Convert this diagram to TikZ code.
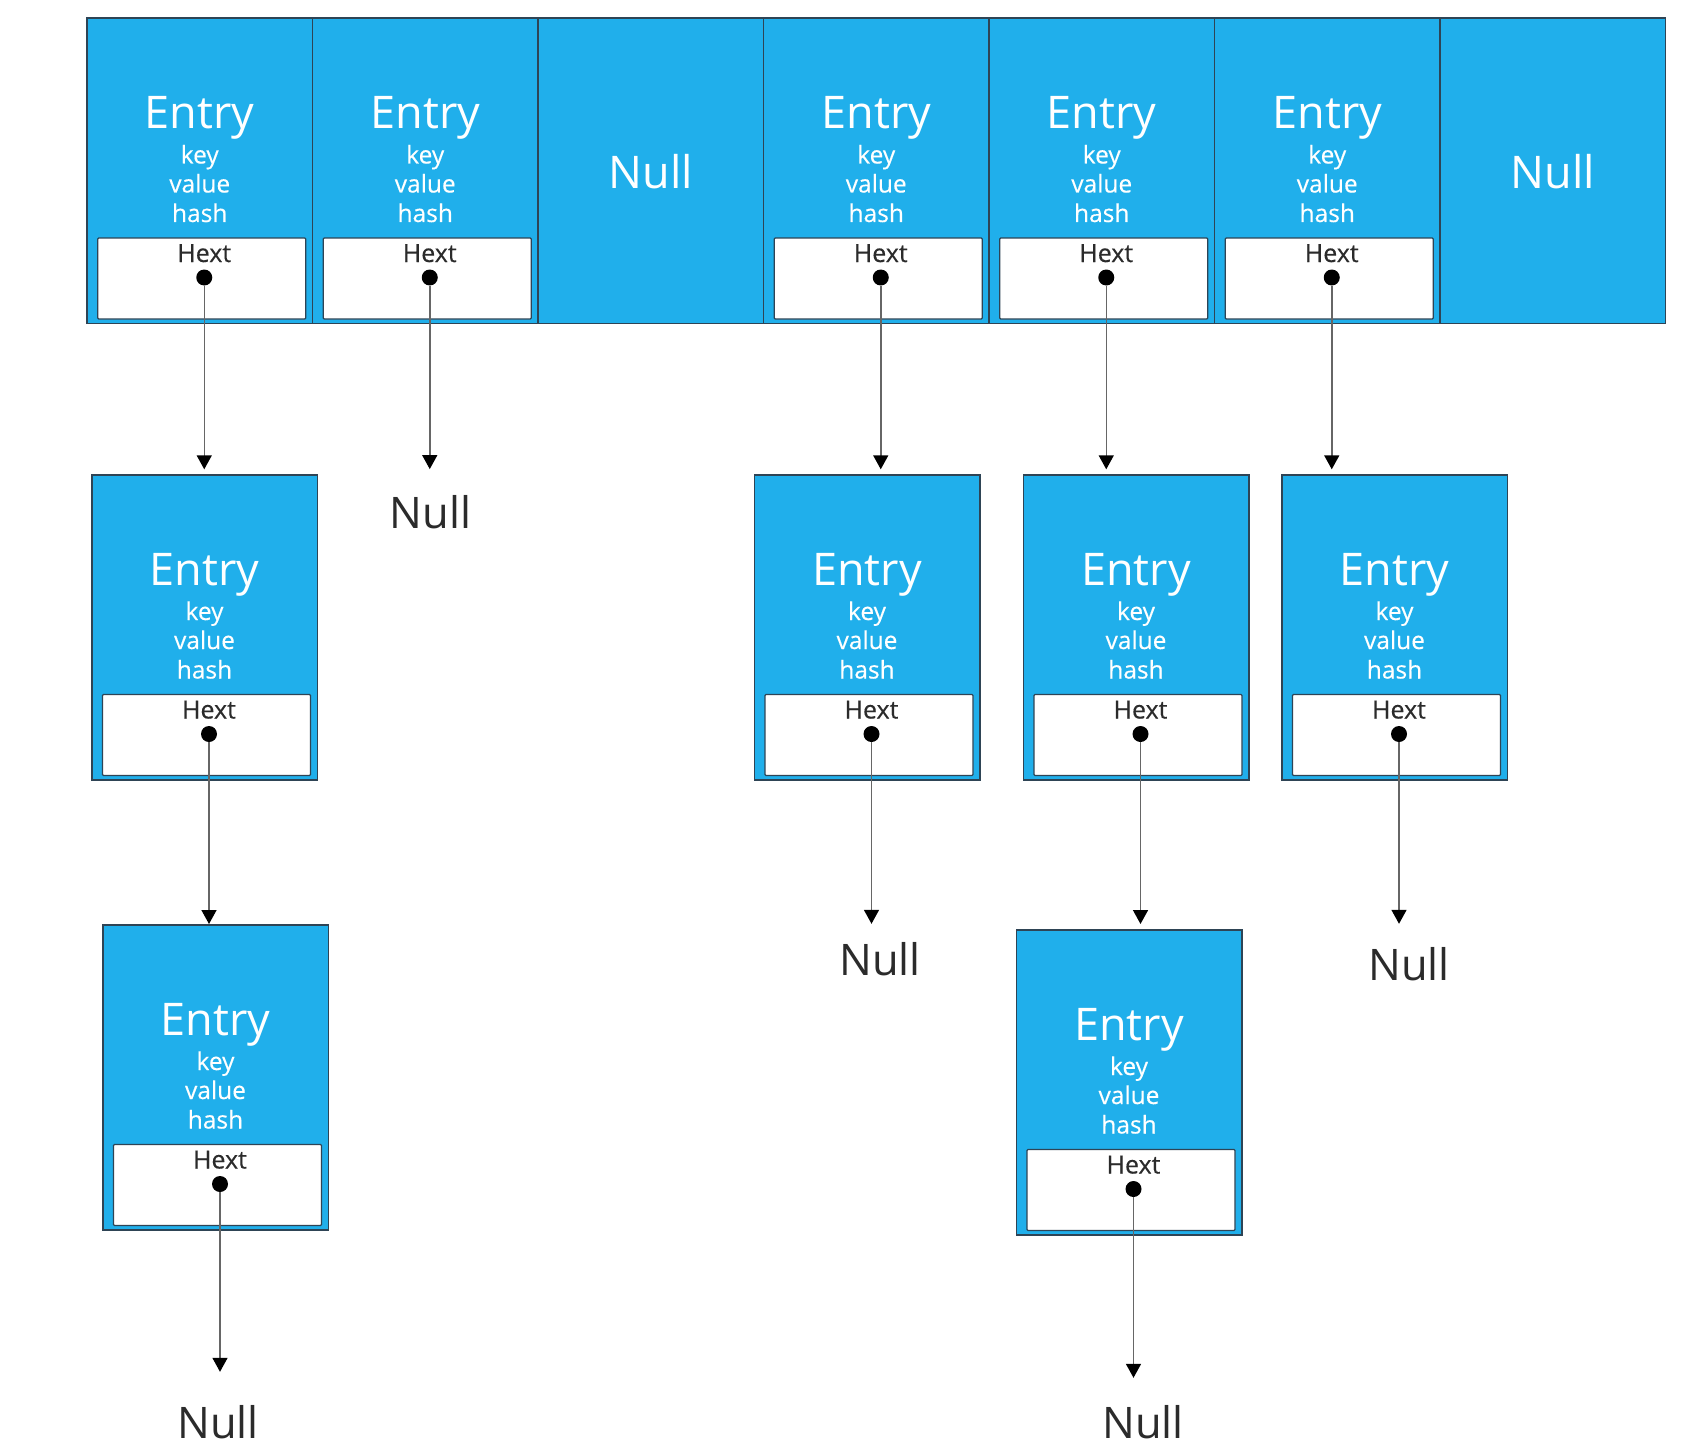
\documentclass[tikz,border=0pt]{standalone}
\usepackage{fontspec}
\setmainfont{Open Sans}
\newfontfamily\fieldfont{Open Sans}[FakeBold=0.3]
\usetikzlibrary{arrows.meta, positioning, calc}
\definecolor{hm}{HTML}{20AFEB}
\definecolor{edge}{HTML}{2E4455}
\definecolor{ink}{HTML}{2B2B2B}
\definecolor{wire}{HTML}{666666}

\begin{document}
\begin{tikzpicture}[x=1pt, y=-1pt,
      cell/.style={rectangle, draw=edge, fill=hm, line width=1.5pt,
                   minimum width=225.5pt, minimum height=305pt, inner sep=0pt},
      nextbox/.style={rectangle, draw=edge, fill=white, line width=1.3pt,
                   rounded corners=1pt, minimum width=208pt, minimum height=81pt,
                   inner sep=0pt},
      headline/.style={font=\fontsize{45}{50}\selectfont, text=white,
                   inner sep=0pt, anchor=base},
      field/.style={font=\fieldfont\fontsize{24.5}{29}\selectfont, text=white,
                   inner sep=0pt, anchor=base},
      ptrdot/.style={circle, fill=black, minimum size=16pt, inner sep=0pt},
      nul/.style={font=\fontsize{43.5}{50}\selectfont, text=ink, inner sep=0pt,
                  text height=32pt, anchor=base},
      ptr/.style={draw=wire, line width=1.5pt,
                  -{Triangle[width=15pt, length=14pt, color=black]}}]
      \fill[white] (0,0) rectangle (1702,1450);
      % bucket array, empty slots
      \foreach \i in {2,6} {
        \node[cell, anchor=north] (b\i) at ({87+225.5*\i+112.75},17.5) {};
        \node[headline] (b\i-t) at ($(b\i.north)+(0,171)$) {Null};
      }
      % entries: name / centre x / top y
      \foreach \nm/\x/\y in {b0/199.75/17.5, b1/425.25/17.5, b3/876.25/17.5,
                             b4/1101.75/17.5, b5/1327.25/17.5,
                             e1/204.5/474, e2/867/474, e3/1136/474, e4/1394.5/474,
                             e5/215.5/924, e6/1129/929} {
        \node[cell, anchor=north] (\nm) at (\x,\y) {};
        \node[headline] (\nm-t) at ($(\nm.north)+(0,111)$) {Entry};
        \node[field] (\nm-k) at ($(\nm.north)+(0,146)$) {key};
        \node[field] (\nm-v) at ($(\nm.north)+(0,175)$) {value};
        \node[field] (\nm-h) at ($(\nm.north)+(0,204.5)$) {hash};
        \node[nextbox] (\nm-n) at ($(\nm.north)+(2,261)$) {};
        \node[field, text=ink, font=\fieldfont\fontsize{25}{29}\selectfont] (\nm-l)
          at ($(\nm.north)+(4.5,244.5)$) {Hext};
        \node[ptrdot] (\nm-p) at ($(\nm.north)+(4.5,260)$) {};
      }
      % chain ends
      \node[nul] (z1) at (430.7,528.3) {Null};
      \node[nul] (z2) at (880,975) {Null};
      \node[nul] (z3) at (1409,980) {Null};
      \node[nul] (z4) at (218,1438) {Null};
      \node[nul] (z5) at (1143,1438) {Null};
      % next pointers
      \draw[ptr, shorten >=4.7pt] (b0-p) -- (b0-p |- e1.north);
      \draw[ptr, shorten >=27pt] (b1-p) -- (b1-p |- z1.north);
      \draw[ptr, shorten >=4.7pt] (b3-p) -- (b3-p |- e2.north);
      \draw[ptr, shorten >=4.7pt] (b4-p) -- (b4-p |- e3.north);
      \draw[ptr, shorten >=4.7pt] (b5-p) -- (b5-p |- e4.north);
      \draw[ptr] (e1-p) -- (e1-p |- e5.north);
      \draw[ptr, shorten >=19pt] (e2-p) -- (e2-p |- z2.north);
      \draw[ptr, shorten >=5pt] (e3-p) -- (e3-p |- e6.north);
      \draw[ptr, shorten >=24pt] (e4-p) -- (e4-p |- z3.north);
      \draw[ptr, shorten >=34pt] (e5-p) -- (e5-p |- z4.north);
      \draw[ptr, shorten >=28pt] (e6-p) -- (e6-p |- z5.north);
    \end{tikzpicture}
\end{document}
